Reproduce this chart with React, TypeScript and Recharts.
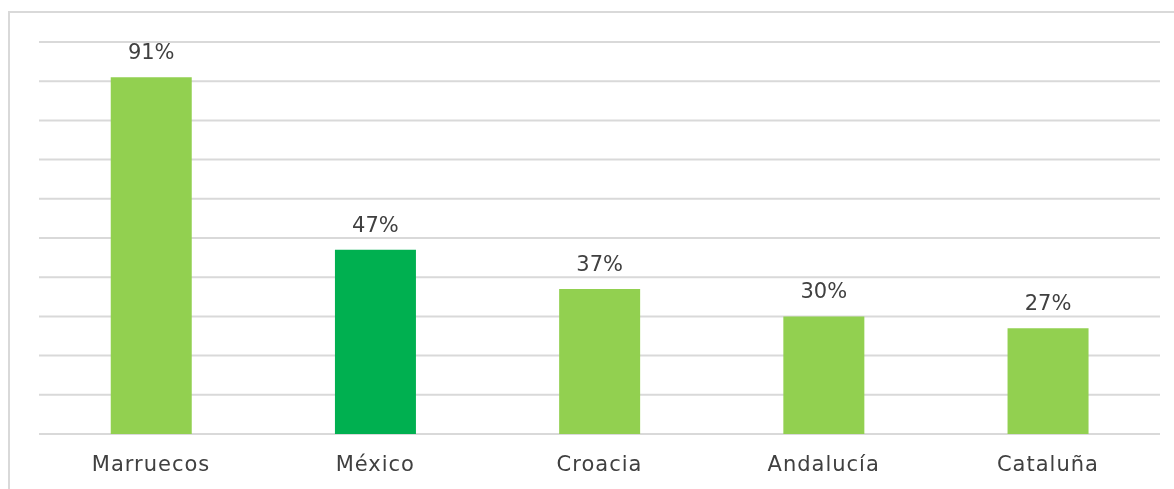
import React from "react";
import { BarChart, Bar, XAxis, YAxis, CartesianGrid, LabelList, Cell } from "recharts";

const categories = ["Marruecos", "México", "Croacia", "Andalucía", "Cataluña"];
const values = [91, 47, 37, 30, 27];
const barColors = ["#92D050", "#00B050", "#92D050", "#92D050", "#92D050"];
const yTicks = [0, 10, 20, 30, 40, 50, 60, 70, 80, 90, 100];

const data = categories.map((name, i) => ({ name, value: values[i] }));

const FONT = "'DejaVu Sans', sans-serif";

export default function App() {
  return (
    <div>
      <div
        style={{
          position: "fixed",
          left: 8,
          top: 11,
          width: 1174,
          height: 489,
          borderTop: "2px solid #D9D9D9",
          borderLeft: "2px solid #D9D9D9",
          boxSizing: "border-box",
        }}
      />
      <div style={{ position: "fixed", left: 0, top: 0 }}>
        <BarChart
          width={1174}
          height={489}
          data={data}
          margin={{ top: 42, left: 39, right: 14, bottom: 0 }}
          barCategoryGap="32%"
        >
          <CartesianGrid vertical={false} stroke="#D9D9D9" strokeWidth={2} />
          <XAxis
            dataKey="name"
            axisLine={false}
            tickLine={false}
            tickMargin={16}
            height={55}
            tick={{ fill: "#404040", fontSize: 21, fontFamily: FONT, letterSpacing: 1 }}
          />
          <YAxis hide domain={[0, 100]} ticks={yTicks} />
          <Bar dataKey="value" isAnimationActive={false}>
            {data.map((d, i) => (
              <Cell key={d.name} fill={barColors[i]} />
            ))}
            <LabelList
              dataKey="value"
              position="top"
              offset={18}
              formatter={(v: number) => `${v}%`}
              style={{ fill: "#404040", fontSize: 21, fontFamily: FONT }}
            />
          </Bar>
        </BarChart>
      </div>
    </div>
  );
}
